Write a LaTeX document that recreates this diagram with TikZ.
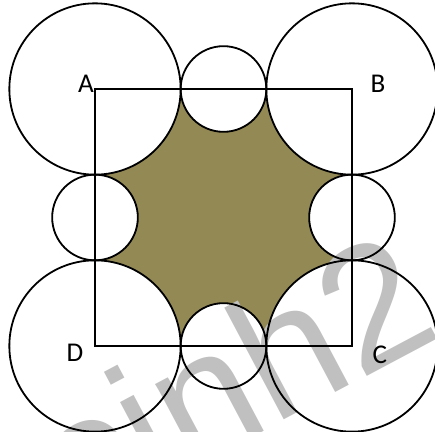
\documentclass[tikz,border=0pt]{standalone}
\usepackage{fontspec}
\usepackage{xcolor}
\usepackage{tikz}
\usetikzlibrary{calc}
\newfontfamily\labelfont{Carlito}
\newfontfamily\markfont{Liberation Sans}
\definecolor{OlivaSombra}{RGB}{147,137,85}
\definecolor{GrisMarca}{RGB}{192,192,192}

\begin{document}
\begin{tikzpicture}[line width=1.2pt,
    vertice/.style={font=\labelfont\fontsize{18}{20}\selectfont,inner sep=0pt},
    marca/.style={font=\markfont\fontsize{116}{116}\selectfont,text=GrisMarca,inner sep=0pt}]
  \useasboundingbox (-2.218,-2.008) rectangle (7.938,8.078);
  \coordinate (D) at (0,0);
  \coordinate (C) at (6,0);
  \coordinate (B) at (6,6);
  \coordinate (A) at (0,6);
  % shaded part = square minus the circles
  \fill[OlivaSombra] (A) rectangle (C);
  \foreach \p in {A,B,C,D} \fill[white] (\p) circle (2);
  \foreach \m in {(3,6),(6,3),(3,0),(0,3)} \fill[white] \m circle (1);
  \node[marca,rotate=28,anchor=base east] (wm) at (8.2,0.28) {cinh2};
  \foreach \p in {A,B,C,D} \draw (\p) circle (2);
  \foreach \m in {(3,6),(6,3),(3,0),(0,3)} \draw \m circle (1);
  \draw (A)--(B)--(C)--(D)--cycle;
  \node[vertice] (lA) at ($(A)+(-0.21,0.12)$) {A};
  \node[vertice] (lB) at ($(B)+(0.61,0.12)$) {B};
  \node[vertice] (lC) at ($(C)+(0.65,-0.21)$) {C};
  \node[vertice] (lD) at ($(D)+(-0.47,-0.16)$) {D};
\end{tikzpicture}
\end{document}
